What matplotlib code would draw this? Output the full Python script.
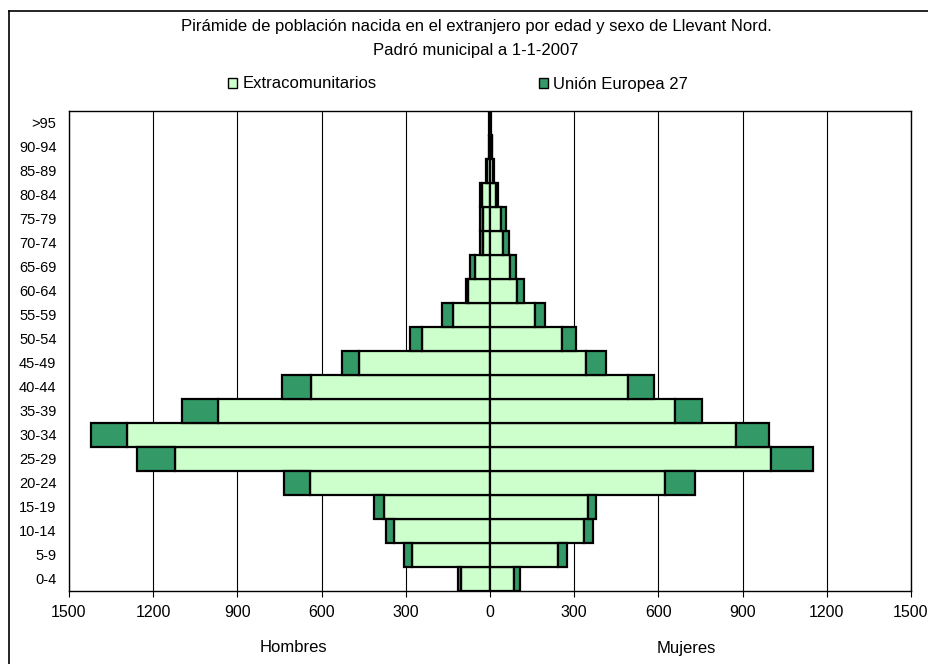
import numpy as np
import matplotlib
matplotlib.use("Agg")
import matplotlib.pyplot as plt
import matplotlib.transforms as mtransforms
from matplotlib.patches import Patch
from matplotlib.lines import Line2D

plt.rcParams['font.family'] = ['Liberation Sans', 'DejaVu Sans']

# --- data ---
ages = ['0-4', '5-9', '10-14', '15-19', '20-24', '25-29', '30-34', '35-39',
        '40-44', '45-49', '50-54', '55-59', '60-64', '65-69', '70-74',
        '75-79', '80-84', '85-89', '90-94', '>95']

men_extra = [102, 277, 341, 377, 641, 1121, 1293, 969, 639, 468, 241, 133,
             78, 53, 26, 26, 28, 10, 3, 1]
men_eu = [11, 28, 29, 36, 93, 136, 129, 129, 101, 59, 43, 38,
          7, 17, 10, 10, 8, 4, 1, 1]
women_extra = [85, 241, 336, 349, 622, 1001, 878, 658, 493, 343, 258, 159,
               95, 72, 47, 38, 20, 12, 6, 1]
women_eu = [22, 32, 30, 30, 108, 150, 116, 99, 93, 72, 49, 36,
            26, 21, 21, 19, 8, 4, 2, 1]

xticks = [-1500, -1200, -900, -600, -300, 0, 300, 600, 900, 1200, 1500]
series_names = ['Extracomunitarios', 'Unión Europea 27']
side_names = ['Hombres', 'Mujeres']

light = '#CCFFCC'
dark = '#339966'
fs = 12

fig = plt.figure(figsize=(9.29, 6.64), dpi=100)
ax = fig.add_axes([69 / 929, 1 - 591 / 664, (911 - 69) / 929, (591 - 111) / 664])

y = np.arange(len(ages))
me = np.array(men_extra)
mu = np.array(men_eu)
we = np.array(women_extra)
wu = np.array(women_eu)

kw = dict(height=1.0, edgecolor='black', linewidth=1.6, zorder=3)
ax.barh(y, -me, color=light, **kw)
ax.barh(y, -mu, left=-me, color=dark, **kw)
ax.barh(y, we, color=light, **kw)
ax.barh(y, wu, left=we, color=dark, **kw)

ax.axvline(0, color='black', linewidth=1.2, zorder=4)

ax.set_xlim(-1500, 1500)
ax.set_ylim(-0.5, len(ages) - 0.5)
ax.set_xticks(xticks)
ax.set_xticklabels([str(abs(t)) for t in xticks], fontsize=11.5)
ax.set_yticks(y)
ax.set_yticklabels(ages, fontsize=10.5)
ax.tick_params(axis='y', length=0, pad=9)
ax.tick_params(axis='x', length=4, direction='out', pad=6, width=0.8)
ax.grid(axis='x', color='black', linewidth=0.8, zorder=0)
ax.set_axisbelow(True)
for s in ax.spines.values():
    s.set_linewidth(1.0)

# side labels under the axis
tr = mtransforms.blended_transform_factory(ax.transData, fig.transFigure)
ax.text(-700, 1 - 648 / 664, side_names[0], transform=tr, fontsize=fs,
        ha='center', va='center')
ax.text(700, 1 - 648 / 664, side_names[1], transform=tr, fontsize=fs,
        ha='center', va='center')

# title
fig.text(476 / 929, 1 - 27 / 664,
         'Pirámide de población nacida en el extranjero por edad y sexo de Llevant Nord.',
         ha='center', va='center', fontsize=fs)
fig.text(476 / 929, 1 - 50 / 664, 'Padró municipal a 1-1-2007',
         ha='center', va='center', fontsize=fs)

# legend, one entry placed at each position
for name, col, x0 in zip(series_names, [light, dark], [228, 539]):
    h = Patch(facecolor=col, edgecolor='black', linewidth=1.0)
    fig.legend([h], [name], loc='center left', bbox_to_anchor=(x0 / 929, 1 - 84 / 664),
               frameon=False, fontsize=fs, handlelength=0.55, handleheight=0.55,
               handletextpad=0.3, borderpad=0, borderaxespad=0)

# chart border
fig.add_artist(Line2D([8.5 / 929, 8.5 / 929], [0, 1 - 11 / 664], color='black', linewidth=1.2,
                      transform=fig.transFigure))
fig.add_artist(Line2D([8.5 / 929, 1], [1 - 11 / 664, 1 - 11 / 664], color='black', linewidth=1.2,
                      transform=fig.transFigure))

fig.savefig('out.png', dpi=100)
